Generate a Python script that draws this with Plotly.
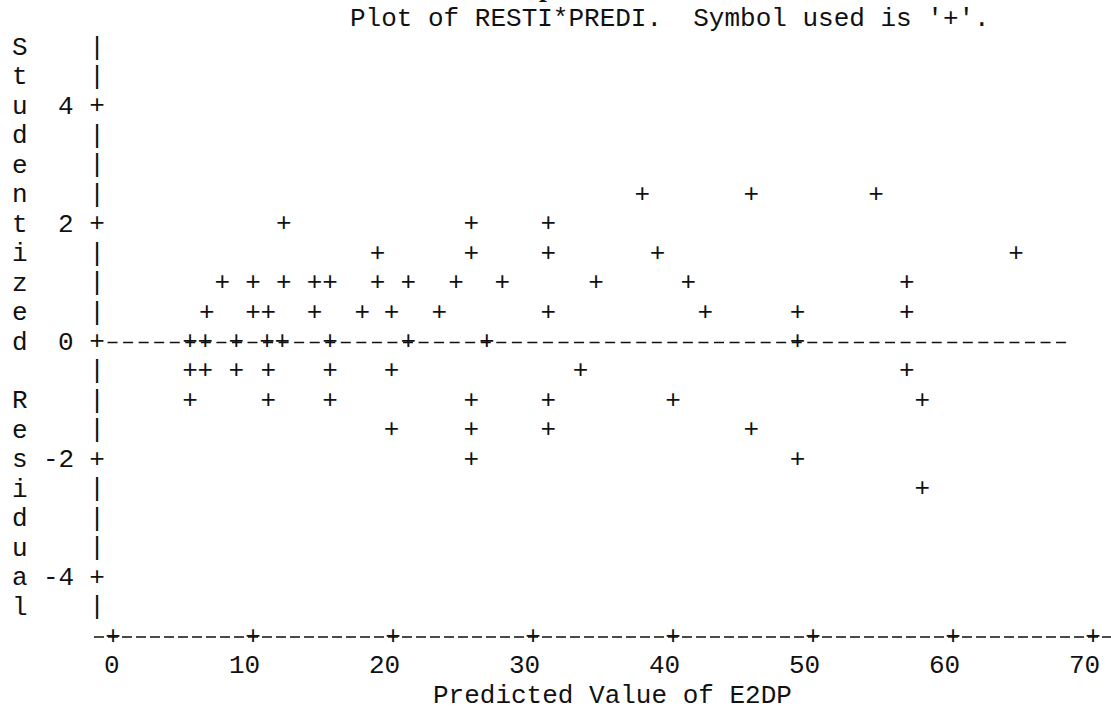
import plotly.graph_objects as go

# ---------------- data ----------------
pred = [
    37.8, 45.6, 54.5,                                   # resid 2.5
    12.2, 25.6, 31.1,                                   # resid 2.0
    18.9, 25.6, 31.1, 38.9, 64.5,                       # resid 1.5
    7.8, 10.0, 12.2, 14.4, 15.5, 18.9, 21.1, 24.5, 27.8, 34.5, 41.1, 56.7,  # 1.0
    6.7, 10.0, 11.1, 14.4, 17.8, 19.9, 23.3, 31.1, 42.3, 48.9, 56.7,        # 0.5
    5.5, 6.6, 8.8, 11.0, 12.1, 15.5, 21.1, 26.7, 48.9,  # 0
    5.5, 6.6, 8.8, 11.1, 15.5, 19.9, 33.4, 56.7,        # -0.5
    5.5, 11.1, 15.5, 25.6, 31.1, 40.0, 57.8,            # -1.0
    19.9, 25.6, 31.1, 45.6,                             # -1.5
    25.6, 48.9,                                         # -2.0
    57.8,                                               # -2.5
]
resid = (
    [2.5] * 3 + [2.0] * 3 + [1.5] * 5 + [1.0] * 12 + [0.5] * 11 + [0.0] * 9
    + [-0.5] * 8 + [-1.0] * 7 + [-1.5] * 4 + [-2.0] * 2 + [-2.5] * 1
)

x_ticks = [0, 10, 20, 30, 40, 50, 60, 70]
x_tick_labels = ["0", "10", "20", "30", "40", "50", "60", "70"]
y_ticks = [4, 2, 0, -2, -4]
y_tick_labels = ["4", "2", "0", "-2", "-4"]
y_title = "Studentized Residual"
x_title = "Predicted Value of E2DP"
plot_title = "Plot of RESTI*PREDI.  Symbol used is '+'."

# ---------------- geometry ----------------
W, H = 1111, 709
PX_X = 14.0          # pixels per x unit
X0 = 113.0           # pixel of x = 0
PX_Y = 58.9          # pixels per y unit (one text row = 0.5)
Y0 = 342.5           # pixel of y = 0
COL_W = 15.55        # width of one printed character column (px)


def px2x(px):
    return (px - X0) / PX_X


def px2y(py):
    return (Y0 - py) / PX_Y


MONO = "Liberation Mono, Courier New, monospace"
INK = "#111111"
FONT = dict(family=MONO, size=26, color=INK)

fig = go.Figure()

# vertical axis: '|' in every row, '+' at tick rows
rows = [5.0 - 0.5 * i for i in range(20)]
axis_x = px2x(97)
fig.add_trace(go.Scatter(
    x=[axis_x] * len(rows), y=rows, mode="text",
    text=["+" if r in y_ticks else "|" for r in rows],
    textposition="middle center", textfont=FONT, hoverinfo="skip", showlegend=False))

# horizontal axis row: printed dashes (10 px dash every 14 px), '+' at ticks
fig.add_trace(go.Scatter(
    x=[px2x(94), px2x(W)], y=[-5.0, -5.0], mode="lines",
    line=dict(color=INK, width=1.6, dash="10px,4px"), hoverinfo="skip", showlegend=False))
fig.add_trace(go.Scatter(
    x=x_ticks, y=[-5.0] * len(x_ticks), mode="text", text=["+"] * len(x_ticks),
    textposition="middle center", textfont=FONT, hoverinfo="skip", showlegend=False))

# reference line at residual 0 (printed dashes, one per character column)
fig.add_trace(go.Scatter(
    x=[px2x(97 + COL_W - 5), px2x(1068)], y=[0.0, 0.0], mode="lines",
    line=dict(color=INK, width=1.6, dash="10px,5.55px"), hoverinfo="skip", showlegend=False))

# data points, symbol '+'
fig.add_trace(go.Scatter(
    x=pred, y=resid, mode="text", text=["+"] * len(pred),
    textposition="middle center", textfont=FONT, hoverinfo="skip", showlegend=False))

ann = []
# y tick labels
for v, lab in zip(y_ticks, y_tick_labels):
    ann.append(dict(x=px2x(75), y=v, xref="x", yref="y", text=lab, showarrow=False,
                    xanchor="right", yanchor="middle", font=FONT, borderpad=0))
# x tick labels
for v, lab in zip(x_ticks, x_tick_labels):
    ann.append(dict(x=v + 7.5 / PX_X, y=-5.5, xref="x", yref="y", text=lab, showarrow=False,
                    xanchor="right", yanchor="middle", font=FONT, borderpad=0))
# vertical axis title, one letter per row
for r, ch in zip(rows, y_title):
    if ch.strip():
        ann.append(dict(x=px2x(20), y=r, xref="x", yref="y", text=ch, showarrow=False,
                        xanchor="center", yanchor="middle", font=FONT, borderpad=0))
# horizontal axis title
ann.append(dict(x=px2x(612), y=-6.0, xref="x", yref="y", text=x_title, showarrow=False,
                xanchor="center", yanchor="middle", font=FONT, borderpad=0))
# plot title line
ann.append(dict(x=px2x(349), y=5.5, xref="x", yref="y", text=plot_title.replace(" ", "&nbsp;"),
                showarrow=False, xanchor="left", yanchor="middle", font=FONT, borderpad=0))
# clipped bold heading above the page (only a descender shows)
ann.append(dict(x=px2x(547), y=1 + 14 / H, xref="x", yref="paper", text="<b>p</b>",
                showarrow=False, xanchor="center", yanchor="middle",
                font=dict(family="Liberation Serif, serif", size=28, color=INK), borderpad=0))

fig.update_layout(
    width=W, height=H, autosize=False,
    margin=dict(l=0, r=0, t=0, b=0),
    paper_bgcolor="white", plot_bgcolor="white",
    xaxis=dict(range=[px2x(0), px2x(W)], visible=False, fixedrange=True),
    yaxis=dict(range=[px2y(H), px2y(0)], visible=False, fixedrange=True),
    annotations=ann,
    showlegend=False,
)

fig.write_html("out.html")
